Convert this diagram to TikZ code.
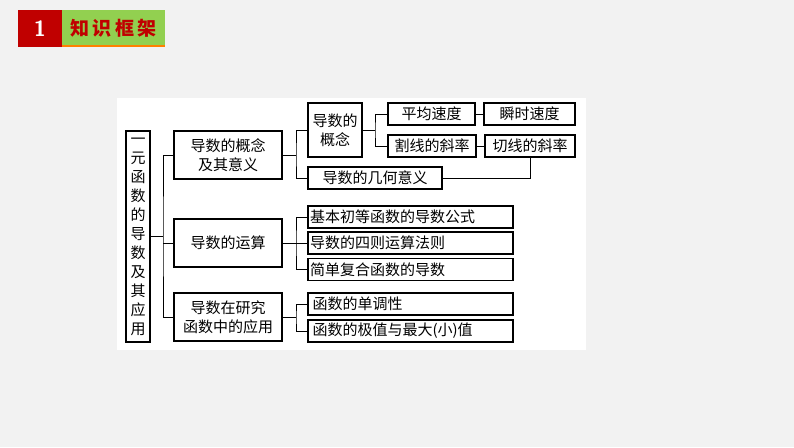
\documentclass[tikz,border=0pt]{standalone}
\usepackage{fontspec}
\newfontfamily\cjk{Noto Sans CJK SC}
\usetikzlibrary{positioning}
\definecolor{bgray}{HTML}{F2F2F2}
\definecolor{hred}{HTML}{C00000}
\definecolor{hgreen}{HTML}{92D050}
\tikzset{
  kbox/.style={draw, line width=1.1pt, fill=white, inner sep=1pt, align=center, font=\cjk\fontsize{15}{19}\selectfont},
  link/.style={line width=0.9pt}
}
\begin{document}
\begin{tikzpicture}[x=1pt,y=-1pt]
\useasboundingbox[fill=bgray] (0,0) rectangle (794,447);
% header
\fill[hred] (18,10) rectangle (62,47);
\fill[hgreen] (62,10) rectangle (165,45);
\fill[orange] (62,45) rectangle (165,47);
\node[white, font=\sffamily\fontsize{22}{22}\selectfont\bfseries] (num) at (40,28.5) {1};
\node[hred, font=\cjk\fontsize{19}{19}\selectfont\bfseries] (title) at (113.5,28) {知\,识\,框\,架};
% panel
\fill[white] (117,98) rectangle (586,350);
% boxes
\node[kbox, minimum width=24, minimum height=211, text width=16] (main) at (138,236.5) {一\\元\\函\\数\\的\\导\\数\\及\\其\\应\\用};
\node[kbox, minimum width=108, minimum height=48] (def) at (228,155) {导数的概念\\及其意义};
\node[kbox, minimum width=108, minimum height=48] (calc) at (228,243) {导数的运算};
\node[kbox, minimum width=108, minimum height=48] (app) at (228,317) {导数在研究\\函数中的应用};
\node[kbox, minimum width=54, minimum height=54] (concept) at (335,130) {导数的\\概念};
\node[kbox, minimum width=87, minimum height=22] (avg) at (431.5,114) {平均速度};
\node[kbox, minimum width=91, minimum height=22] (inst) at (529.5,114) {瞬时速度};
\node[kbox, minimum width=88, minimum height=22] (secant) at (432,146) {割线的斜率};
\node[kbox, minimum width=90, minimum height=22] (tangent) at (530,146) {切线的斜率};
\node[kbox, minimum width=134, minimum height=22] (geom) at (375,178) {导数的几何意义};
\node[kbox, minimum width=205, minimum height=22, text width=201, align=left] (basic) at (410.5,217) {基本初等函数的导数公式};
\node[kbox, minimum width=205, minimum height=22, text width=201, align=left] (rules) at (410.5,243) {导数的四则运算法则};
\node[kbox, minimum width=205, minimum height=22, text width=201, align=left] (chain) at (410.5,269.5) {简单复合函数的导数};
\node[kbox, minimum width=205, minimum height=22, text width=201, align=left] (mono) at (410.5,304) {\,函数的单调性};
\node[kbox, minimum width=205, minimum height=22, text width=201, align=left] (extr) at (410.5,331) {\,函数的极值与最大(小)值};
% links
\draw[link] (main.east) -- (163,236.5);
\draw[link] (def.west) -| (163,236.5) |- (app.west);
\draw[link] (163,243) -- (calc.west);
\draw[link] (def.east) -- (296,155);
\draw[link] (concept.west) -| (296,155) |- (geom.west);
\draw[link] (concept.east) -- (375,130);
\draw[link] (avg.west) -| (375,130) |- (secant.west);
\draw[link] (avg) -- (inst);
\draw[link] (secant) -- (tangent);
\draw[link] (tangent.south) |- (geom.east);
\draw[link] (calc.east) -- (296,243);
\draw[link] (basic.west) -| (296,243) |- (chain.west);
\draw[link] (296,243) -- (rules.west);
\draw[link] (app.east) -- (296,317);
\draw[link] (mono.west) -| (296,317) |- (extr.west);
\end{tikzpicture}
\end{document}
